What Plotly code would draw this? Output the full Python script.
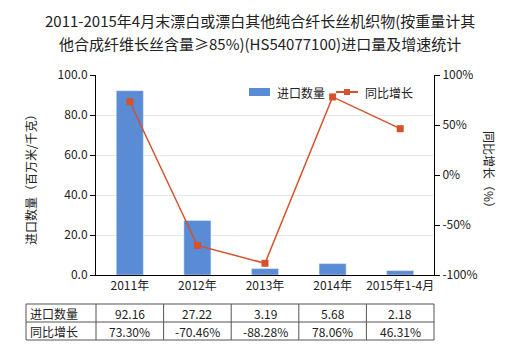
import plotly.graph_objects as go

categories = ["2011年", "2012年", "2013年", "2014年", "2015年1-4月"]
import_qty = [92.16, 27.22, 3.19, 5.68, 2.18]
growth = [73.30, -70.46, -88.28, 78.06, 46.31]
qty_labels = ["92.16", "27.22", "3.19", "5.68", "2.18"]
growth_labels = ["73.30%", "-70.46%", "-88.28%", "78.06%", "46.31%"]
left_ticks = [0, 20, 40, 60, 80, 100]
left_tick_text = ["0.0", "20.0", "40.0", "60.0", "80.0", "100.0"]
right_ticks = [-100, -50, 0, 50, 100]
right_tick_text = ["-100%", "-50%", "0%", "50%", "100%"]
title_lines = ["2011-2015年4月末漂白或漂白其他纯合纤长丝机织物(按重量计其",
               "他合成纤维长丝含量≥85%)(HS54077100)进口量及增速统计"]
series_names = ["进口数量", "同比增长"]

FONT = "Noto Sans CJK SC, DejaVu Sans, sans-serif"
BAR_C = "#5a8bd5"
LINE_C = "#d5522b"
TXT = "#222222"

L, R, T, B = 96, 86, 75, 75
W, H = 520, 350
PW, PH = W - L - R, H - T - B

def px(x):
    return (x - L) / PW

def py(y):
    return (H - B - y) / PH

fig = go.Figure()
fig.add_trace(go.Bar(x=categories, y=import_qty, name=series_names[0], marker_color=BAR_C,
                     width=0.4, yaxis="y", showlegend=False))
fig.add_trace(go.Scatter(x=categories, y=growth, name=series_names[1], mode="lines+markers",
                         line=dict(color=LINE_C, width=1.5),
                         marker=dict(symbol="square", size=7, color=LINE_C),
                         yaxis="y2", showlegend=False))

shapes = []
annotations = []
# table grid
col_x = [26] + [L + i * PW / 5 for i in range(6)]
row_y = [304, 322, 340]
for yy in row_y:
    shapes.append(dict(type="line", xref="paper", yref="paper", x0=px(26), x1=px(L + PW),
                       y0=py(yy), y1=py(yy), line=dict(color="#555555", width=1)))
for xx in col_x:
    shapes.append(dict(type="line", xref="paper", yref="paper", x0=px(xx), x1=px(xx),
                       y0=py(304), y1=py(340), line=dict(color="#555555", width=1)))
for r, (name, vals) in enumerate(zip(series_names, [qty_labels, growth_labels])):
    yc = py((row_y[r] + row_y[r + 1]) / 2)
    annotations.append(dict(text=name, xref="paper", yref="paper", x=px(28), y=yc,
                            xanchor="left", yanchor="middle", showarrow=False,
                            font=dict(size=12, color=TXT, family=FONT)))
    for i, v in enumerate(vals):
        annotations.append(dict(text=v, xref="paper", yref="paper",
                                x=px(L + (i + 0.5) * PW / 5), y=yc,
                                xanchor="center", yanchor="middle", showarrow=False,
                                font=dict(size=12, color=TXT, family=FONT)))

# axis titles
annotations.append(dict(text="进口数量（百万米/千克）", xref="paper", yref="paper",
                        x=px(30), y=py(177), textangle=-90, showarrow=False,
                        xanchor="center", yanchor="middle",
                        font=dict(size=12, color=TXT, family=FONT)))
annotations.append(dict(text="同比增长（%）", xref="paper", yref="paper",
                        x=px(490), y=py(172), textangle=90, showarrow=False,
                        xanchor="center", yanchor="middle",
                        font=dict(size=12, color=TXT, family=FONT)))

# title
for i, line in enumerate(title_lines):
    annotations.append(dict(text=line, xref="paper", yref="paper",
                            x=px(260), y=py(20 + 23 * i), xanchor="center", yanchor="middle",
                            showarrow=False, font=dict(size=15, color=TXT, family=FONT)))

# manual legend
shapes.append(dict(type="rect", xref="paper", yref="paper", x0=px(249), x1=px(270),
                   y0=py(96), y1=py(88), fillcolor=BAR_C, line=dict(width=0)))
annotations.append(dict(text=series_names[0], xref="paper", yref="paper", x=px(275), y=py(92),
                        xanchor="left", yanchor="middle", showarrow=False,
                        font=dict(size=12, color=TXT, family=FONT)))
shapes.append(dict(type="line", xref="paper", yref="paper", x0=px(336), x1=px(358),
                   y0=py(92), y1=py(92), line=dict(color=LINE_C, width=2)))
shapes.append(dict(type="rect", xref="paper", yref="paper", x0=px(344), x1=px(350),
                   y0=py(95), y1=py(89), fillcolor=LINE_C, line=dict(width=0)))
annotations.append(dict(text=series_names[1], xref="paper", yref="paper", x=px(363), y=py(92),
                        xanchor="left", yanchor="middle", showarrow=False,
                        font=dict(size=12, color=TXT, family=FONT)))

fig.update_layout(
    width=W, height=H,
    margin=dict(l=L, r=R, t=T, b=B),
    paper_bgcolor="white", plot_bgcolor="white",
    font=dict(family=FONT, size=12, color=TXT),
    showlegend=False,
    xaxis=dict(showline=True, linecolor="#000000", linewidth=1, ticks="",
               tickfont=dict(size=12, family=FONT), showgrid=False),
    yaxis=dict(range=[0, 100], tickvals=left_ticks, ticktext=left_tick_text,
               showline=True, linecolor="#000000", linewidth=1, ticks="outside",
               ticklen=5, tickcolor="#000000", showgrid=True, gridcolor="#e4e8ec",
               zeroline=False, tickfont=dict(size=12, family=FONT)),
    yaxis2=dict(range=[-100, 100], tickvals=right_ticks, ticktext=right_tick_text,
                overlaying="y", side="right", showline=True, linecolor="#000000",
                linewidth=1, ticks="outside", ticklen=5, tickcolor="#000000",
                showgrid=False, zeroline=False, tickfont=dict(size=12, family=FONT)),
    shapes=shapes, annotations=annotations,
)
fig.write_html("out.html")
